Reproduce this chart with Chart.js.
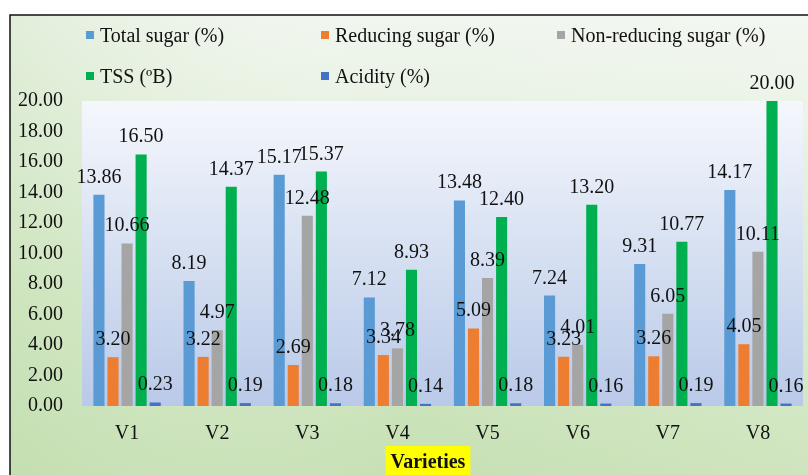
<!DOCTYPE html>
<html>
<head>
<meta charset="utf-8">
<script src="https://cdn.jsdelivr.net/npm/chart.js@4/dist/chart.umd.min.js"></script>
<style>
  html, body { margin: 0; padding: 0; background: #ffffff; }
  #wrap { position: relative; width: 808px; height: 475px; }
</style>
</head>
<body>
<div id="wrap"><canvas id="c" width="808" height="475"></canvas></div>
<script>
const categories = ['V1', 'V2', 'V3', 'V4', 'V5', 'V6', 'V7', 'V8'];
const totalSugar = [13.86, 8.19, 15.17, 7.12, 13.48, 7.24, 9.31, 14.17];
const reducingSugar = [3.20, 3.22, 2.69, 3.34, 5.09, 3.23, 3.26, 4.05];
const nonReducingSugar = [10.66, 4.97, 12.48, 3.78, 8.39, 4.01, 6.05, 10.11];
const tss = [16.50, 14.37, 15.37, 8.93, 12.40, 13.20, 10.77, 20.00];
const acidity = [0.23, 0.19, 0.18, 0.14, 0.18, 0.16, 0.19, 0.16];
const yTicks = [0, 2, 4, 6, 8, 10, 12, 14, 16, 18, 20];
const seriesNames = ['Total sugar (%)', 'Reducing sugar (%)', 'Non-reducing sugar (%)', 'TSS (\u00BAB)', 'Acidity (%)'];
const xTitle = 'Varieties';

const colors = ['#5B9BD5', '#ED7D31', '#A5A5A5', '#00B050', '#4472C4'];
const seriesData = [totalSugar, reducingSugar, nonReducingSugar, tss, acidity];
const FONT = '"Liberation Serif", "Times New Roman", serif';

const bgPlugin = {
  id: 'bg',
  beforeDraw(chart) {
    const ctx = chart.ctx;
    const W = chart.width, H = chart.height;
    ctx.save();
    ctx.fillStyle = '#ffffff';
    ctx.fillRect(0, 0, W, H);
    const g = ctx.createLinearGradient(0, 15, 0, H);
    g.addColorStop(0, '#f1f6ef');
    g.addColorStop(0.25, '#e6f1e0');
    g.addColorStop(0.6, '#d4e8c6');
    g.addColorStop(1, '#c6e0b3');
    ctx.fillStyle = g;
    ctx.fillRect(10, 15, W - 10, H - 15);
    const g2 = ctx.createLinearGradient(10, 0, W, 0);
    g2.addColorStop(0, 'rgba(190,220,170,0.3)');
    g2.addColorStop(0.5, 'rgba(255,255,255,0)');
    g2.addColorStop(1, 'rgba(255,255,255,0.15)');
    ctx.fillStyle = g2;
    ctx.fillRect(10, 15, W - 10, H - 15);
    const a = chart.chartArea;
    const g3 = ctx.createLinearGradient(0, a.top, 0, a.bottom);
    g3.addColorStop(0, '#f5f7fc');
    g3.addColorStop(0.5, '#d6e0f2');
    g3.addColorStop(1, '#b9c9e8');
    ctx.fillStyle = g3;
    ctx.fillRect(a.left, a.top, a.right - a.left, a.bottom - a.top);
    ctx.strokeStyle = '#111111';
    ctx.lineWidth = 1.5;
    ctx.beginPath();
    ctx.moveTo(10, H);
    ctx.lineTo(10, 15);
    ctx.lineTo(W, 15);
    ctx.stroke();
    ctx.restore();
  },
  afterDraw(chart) {
    const ctx = chart.ctx;
    ctx.save();
    const cols = [86, 321, 557];
    const rows = [42, 83];
    ctx.font = '20px ' + FONT;
    ctx.textBaseline = 'alphabetic';
    ctx.textAlign = 'left';
    chart.data.datasets.forEach((ds, i) => {
      const x = cols[i % 3];
      const y = rows[Math.floor(i / 3)];
      ctx.fillStyle = ds.backgroundColor;
      ctx.fillRect(x, y - 11, 8, 8);
      ctx.fillStyle = '#111111';
      ctx.fillText(ds.label, x + 14, y);
    });
    const cx = 428;
    ctx.font = 'bold 20px ' + FONT;
    const tw = ctx.measureText(xTitle).width;
    ctx.fillStyle = '#FFFF00';
    ctx.fillRect(cx - tw / 2 - 5, 446, tw + 10, 29);
    ctx.fillStyle = '#111111';
    ctx.textAlign = 'center';
    ctx.fillText(xTitle, cx, 468);
    ctx.restore();
  },
  afterDatasetsDraw(chart) {
    const ctx = chart.ctx;
    ctx.save();
    ctx.font = '20px ' + FONT;
    ctx.fillStyle = '#111111';
    ctx.textAlign = 'center';
    ctx.textBaseline = 'alphabetic';
    chart.data.datasets.forEach((ds, i) => {
      const meta = chart.getDatasetMeta(i);
      meta.data.forEach((el, j) => {
        ctx.fillText(Number(ds.data[j]).toFixed(2), el.x, el.y - 12);
      });
    });
    ctx.restore();
  }
};

new Chart(document.getElementById('c'), {
  type: 'bar',
  data: {
    labels: categories,
    datasets: seriesNames.map((name, i) => ({
      label: name,
      data: seriesData[i],
      backgroundColor: colors[i],
      borderWidth: 0,
      categoryPercentage: 0.78,
      barPercentage: 0.79
    }))
  },
  options: {
    responsive: false,
    animation: false,
    devicePixelRatio: 1,
    layout: { padding: { left: 0, right: 5, top: 101, bottom: 0 } },
    plugins: {
      legend: { display: false },
      tooltip: { enabled: false },
      title: { display: false }
    },
    scales: {
      x: {
        grid: { display: false, drawTicks: false },
        border: { display: false },
        ticks: {
          color: '#111111',
          font: { family: FONT, size: 20 },
          padding: 16,
          maxRotation: 0
        },
        afterFit(scale) { scale.height = 69; }
      },
      y: {
        min: 0,
        max: 20,
        afterBuildTicks(scale) { scale.ticks = yTicks.map(v => ({ value: v })); },
        grid: { display: false, drawTicks: false },
        border: { display: false },
        ticks: {
          color: '#111111',
          font: { family: FONT, size: 20 },
          padding: 19,
          callback: v => Number(v).toFixed(2)
        },
        afterFit(scale) { scale.width = 82; }
      }
    }
  },
  plugins: [bgPlugin]
});
</script>
</body>
</html>
